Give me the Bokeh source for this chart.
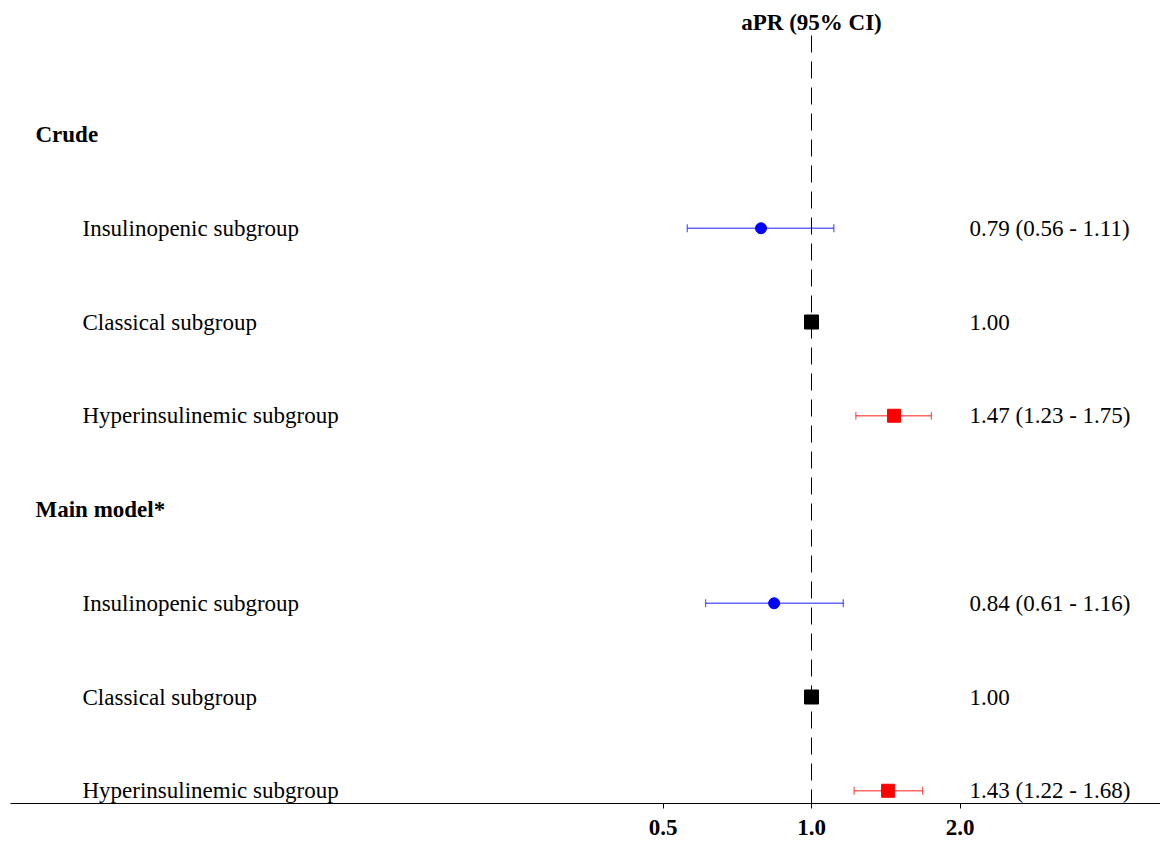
import math
from bokeh.plotting import figure
from bokeh.models import Range1d, FixedTicker, NumeralTickFormatter
from bokeh.core.properties import value
from bokeh.embed import file_html
from bokeh.resources import INLINE

# ---------------- data ----------------
header = "aPR (95% CI)"
sections = ["Crude", "Main model*"]
groups = ["Insulinopenic subgroup", "Classical subgroup", "Hyperinsulinemic subgroup"]
crude_est = [0.79, 1.00, 1.47]
crude_lo = [0.56, 1.00, 1.23]
crude_hi = [1.11, 1.00, 1.75]
main_est = [0.84, 1.00, 1.43]
main_lo = [0.61, 1.00, 1.22]
main_hi = [1.16, 1.00, 1.68]
tick_values = [0.5, 1.0, 2.0]

# ---------------- layout ----------------
W, H = 1160, 841
FONT = "Liberation Serif"
FS = "23px"
FL, FR = 10, 1160          # frame left/right (px)
x_lo, x_hi = 2 ** ((FL - 811) / 148.5), 2 ** ((FR - 811) / 148.5)
y_top, y_bot = -134 / 93.75, (803 - 134) / 93.75


def xpos(px):
    """px -> data value on the log axis"""
    return x_lo * (x_hi / x_lo) ** ((px - FL) / (FR - FL))


p = figure(width=W, height=H, x_axis_type="log", output_backend="svg",
           toolbar_location=None, y_axis_location=None,
           x_range=Range1d(x_lo, x_hi), y_range=Range1d(y_bot, y_top),
           min_border_left=FL, min_border_right=0, min_border_top=0, min_border_bottom=38)
p.outline_line_color = None
p.grid.visible = False
p.background_fill_color = "white"
p.border_fill_color = "white"

ax = p.xaxis[0]
ax.ticker = FixedTicker(ticks=tick_values)
ax.formatter = NumeralTickFormatter(format="0.0")
ax.axis_line_color = "black"
ax.axis_line_width = 1
ax.major_tick_line_color = "black"
ax.major_tick_out = 5
ax.major_tick_in = 0
ax.minor_tick_line_color = None
ax.major_label_text_font = FONT
ax.major_label_text_font_style = "bold"
ax.major_label_text_font_size = FS
ax.major_label_text_color = "black"
ax.major_label_standoff = 11

# reference dashed line
p.line(x=[1.0, 1.0], y=[-1.056, y_bot], line_color="black", line_width=1, line_dash="17 9")

# header
p.text(x=[1.0], y=[-1.195], text=[header], text_font=value(FONT), text_font_size=FS,
       text_font_style="bold", text_align="center", text_baseline="middle", text_color="black")

markers = ["circle", "square", "square"]
colors = ["#0000FF", "#000000", "#FF0000"]
sizes = [11, 14, 13]
cap = 0.043

for s, (name, est, lo, hi) in enumerate([(sections[0], crude_est, crude_lo, crude_hi),
                                         (sections[1], main_est, main_lo, main_hi)]):
    base = 4 * s
    p.text(x=[xpos(35)], y=[base], text=[name], text_font=value(FONT), text_font_size=FS,
           text_font_style="bold", text_align="left", text_baseline="middle", text_color="black")
    ys = [base + 1 + g for g in range(len(groups))]
    p.text(x=[xpos(82)] * len(groups), y=ys, text=groups, text_font=value(FONT),
           text_font_size=FS, text_align="left", text_baseline="middle", text_color="black")
    labels = []
    for g in range(len(groups)):
        if lo[g] == hi[g]:
            labels.append(f"{est[g]:.2f}")
        else:
            labels.append(f"{est[g]:.2f} ({lo[g]:.2f} - {hi[g]:.2f})")
            p.segment(x0=lo[g], y0=ys[g], x1=hi[g], y1=ys[g], line_color=colors[g],
                      line_alpha=0.6, line_width=1.3)
            p.segment(x0=[lo[g], hi[g]], y0=[ys[g] - cap] * 2, x1=[lo[g], hi[g]],
                      y1=[ys[g] + cap] * 2, line_color=colors[g], line_alpha=0.6, line_width=1.3)
        p.scatter(x=[est[g]], y=[ys[g]], marker=markers[g], size=sizes[g],
                  fill_color=colors[g], line_color=colors[g])
    p.text(x=[xpos(969)] * len(groups), y=ys, text=labels, text_font=value(FONT),
           text_font_size=FS, text_align="left", text_baseline="middle", text_color="black")

open("out.html", "w").write(file_html(p, INLINE))
